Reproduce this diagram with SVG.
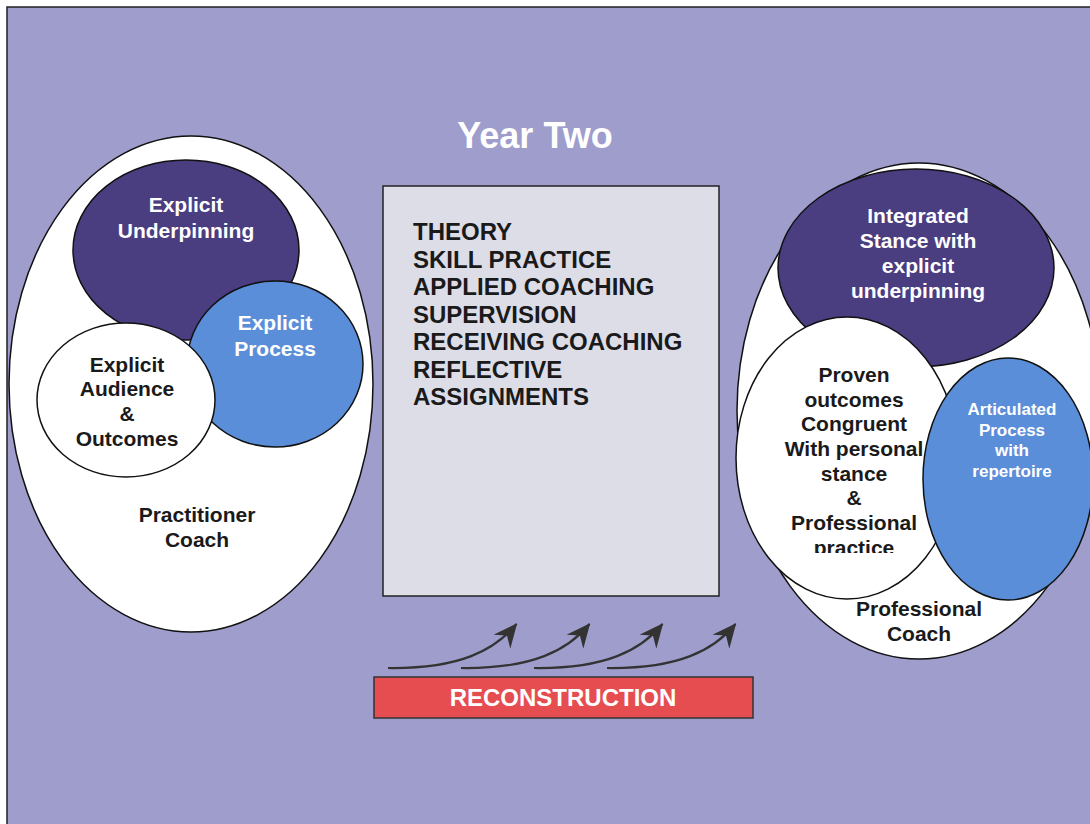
<svg xmlns="http://www.w3.org/2000/svg" width="1090" height="824" viewBox="0 0 1090 824">
<defs>
<style>
.t{font-family:"Liberation Sans",Arial,sans-serif;font-weight:bold;text-anchor:middle}
.w{fill:#ffffff}
.k{fill:#1a1a1a}
.o{stroke:#111;stroke-width:1.5}
.arr{fill:none;stroke:#333;stroke-width:2.2}
</style>
<marker id="ah" viewBox="0 0 24 22" refX="23" refY="11" markerWidth="24" markerHeight="22" markerUnits="userSpaceOnUse" orient="auto">
<path d="M0,0 L24,11 L0,22 L8,11 z" fill="#333"/>
</marker>
<clipPath id="clipPrac"><rect x="740" y="300" width="220" height="253"/></clipPath>
</defs>
<rect x="0" y="0" width="1090" height="824" fill="#ffffff"/>
<rect x="7" y="7" width="1090" height="824" fill="#9e9dcc" stroke="#222" stroke-width="1.5"/>

<text class="t w" x="535" y="148" font-size="36">Year Two</text>

<g id="left">
<ellipse class="o" cx="191" cy="384" rx="182" ry="248" fill="#ffffff"/>
<g id="left-underpinning">
<ellipse class="o" cx="186" cy="250" rx="113" ry="90" fill="#4a3d80"/>
<text class="t w" font-size="21"><tspan x="186" y="212">Explicit</tspan><tspan x="186" y="238">Underpinning</tspan></text>
</g>
<g id="left-process">
<ellipse class="o" cx="275" cy="364" rx="88" ry="83" fill="#5a8ed8"/>
<text class="t w" font-size="21"><tspan x="275" y="330">Explicit</tspan><tspan x="275" y="356">Process</tspan></text>
</g>
<g id="left-audience">
<ellipse class="o" cx="126" cy="400" rx="89" ry="77" fill="#ffffff"/>
<text class="t k" font-size="21"><tspan x="127" y="372">Explicit</tspan><tspan x="127" y="396">Audience</tspan><tspan x="127" y="421">&amp;</tspan><tspan x="127" y="446">Outcomes</tspan></text>
</g>
<text class="t k" font-size="21"><tspan x="197" y="522">Practitioner</tspan><tspan x="197" y="547">Coach</tspan></text>
</g>

<g id="activities">
<rect x="383" y="186" width="336" height="410" fill="#dddde8" stroke="#222" stroke-width="1.5"/>
<text font-family="Liberation Sans,Arial,sans-serif" font-weight="bold" font-size="24" fill="#1a1a1a">
<tspan x="413" y="240">THEORY</tspan>
<tspan x="413" y="267.5">SKILL PRACTICE</tspan>
<tspan x="413" y="295">APPLIED COACHING</tspan>
<tspan x="413" y="322.5">SUPERVISION</tspan>
<tspan x="413" y="350">RECEIVING COACHING</tspan>
<tspan x="413" y="377.5">REFLECTIVE</tspan>
<tspan x="413" y="405">ASSIGNMENTS</tspan>
</text>
</g>

<g id="right">
<ellipse class="o" cx="919" cy="411" rx="182" ry="248" fill="#ffffff"/>
<g id="right-stance">
<ellipse class="o" cx="916" cy="268" rx="138" ry="99" fill="#4a3d80"/>
<text class="t w" font-size="21"><tspan x="918" y="223">Integrated</tspan><tspan x="918" y="248">Stance with</tspan><tspan x="918" y="273">explicit</tspan><tspan x="918" y="298">underpinning</tspan></text>
</g>
<g id="right-outcomes">
<ellipse class="o" cx="847" cy="458" rx="111" ry="141" fill="#ffffff"/>
<text class="t k" font-size="21" clip-path="url(#clipPrac)"><tspan x="854" y="382">Proven</tspan><tspan x="854" y="407">outcomes</tspan><tspan x="854" y="431">Congruent</tspan><tspan x="854" y="456">With personal</tspan><tspan x="854" y="481">stance</tspan><tspan x="854" y="505">&amp;</tspan><tspan x="854" y="530">Professional</tspan><tspan x="854" y="555">practice</tspan></text>
</g>
<g id="right-process">
<ellipse class="o" cx="1008" cy="479" rx="85" ry="121" fill="#5a8ed8"/>
<text class="t w" font-size="17"><tspan x="1012" y="415">Articulated</tspan><tspan x="1012" y="436">Process</tspan><tspan x="1012" y="456">with</tspan><tspan x="1012" y="477">repertoire</tspan></text>
</g>
<text class="t k" font-size="21"><tspan x="919" y="616">Professional</tspan><tspan x="919" y="641">Coach</tspan></text>
</g>

<g id="connectors">
<path class="arr" marker-end="url(#ah)" d="M388,668 C460,669 495,650 516.5,624"/>
<path class="arr" marker-end="url(#ah)" d="M461,668 C533,669 568,650 589.5,624"/>
<path class="arr" marker-end="url(#ah)" d="M534,668 C606,669 641,650 662.5,624"/>
<path class="arr" marker-end="url(#ah)" d="M607,668 C679,669 714,650 735.5,624"/>
</g>

<g id="reconstruction">
<rect x="374" y="677" width="379" height="41" fill="#e64d51" stroke="#333" stroke-width="1.5"/>
<text class="t w" x="563" y="706" font-size="24">RECONSTRUCTION</text>
</g>
</svg>
